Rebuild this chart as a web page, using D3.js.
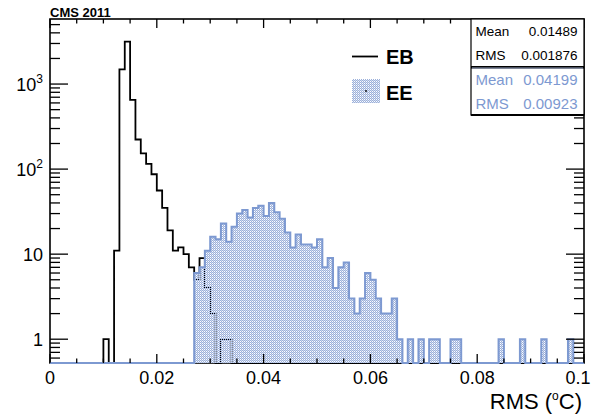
<!DOCTYPE html>
<html><head><meta charset="utf-8">
<script src="https://cdn.jsdelivr.net/npm/d3@7"></script>
<style>body{margin:0;background:#fff;} svg{display:block;font-family:"Liberation Sans",Arial,Helvetica,sans-serif;}</style>
</head><body><svg id="c" width="598" height="415"></svg>
<script>
// ---- data ----
const binLow = 0, binHigh = 0.1, nBins = 100;
// EB counts per bin (0.001 wide bins starting at 0)
const ebCounts = [
  0,0,0,0,0,0,0,0,0,0,
  1,0,11,1490,3150,650,223,153,115,87,
  56,35,19,11,12,10,7,5,9,4,
  2,0,1,1,0,0,0,0,0,0,
  0,0,0,0,0,0,0,0,0,0,
  0,0,0,0,0,0,0,0,0,0,
  0,0,0,0,0,0,0,0,0,0,
  0,0,0,0,0,0,0,0,0,0,
  0,0,0,0,0,0,0,0,0,0,
  0,0,0,0,0,0,0,0,0,0
];
const eeCounts = [
  0,0,0,0,0,0,0,0,0,0,
  0,0,0,0,0,0,0,0,0,0,
  0,0,0,0,0,0,0,6,7,11,
  16,15,23,14,21,30,33,27,35,37,
  28,40,31,26,18,12,17,13,13,12,
  15,7,9,4,7,8,3,2,3,6,
  5,3,2,2,3,1,0,1,0,1,
  0,1,1,0,0,1,1,0,0,0,
  0,0,0,0,1,0,0,0,1,0,
  0,0,1,0,0,0,0,1,0,0
];
const seriesNames = ["EB", "EE"];
const statLabels = ["Mean", "RMS"];
const ebStats = ["0.01489", "0.001876"];
const eeStats = ["0.04199", "0.00923"];
const xTicks = [0, 0.02, 0.04, 0.06, 0.08, 0.1];
const xTickLabels = ["0", "0.02", "0.04", "0.06", "0.08", "0.1"];
const yTicks = [1, 10, 100, 1000];
const yTickBase = ["1", "10", "10", "10"];
const yTickExp = ["", "", "2", "3"];

// ---- layout ----
const W = 598, H = 415;
const L = 50, R = 584, T = 19, B = 363;
const blue = "#7d99d1";
const svg = d3.select("#c");

const x = d3.scaleLinear().domain([binLow, binHigh]).range([L, R]);
const y = d3.scaleLog().domain([0.525, 5820]).range([B, T]);

const defs = svg.append("defs");
const pat = defs.append("pattern").attr("id", "eefill").attr("patternUnits", "userSpaceOnUse")
  .attr("width", 2).attr("height", 2);
pat.append("rect").attr("x", 0).attr("y", 0).attr("width", 1).attr("height", 1).attr("fill", "#9bb0db");
pat.append("rect").attr("x", 1).attr("y", 1).attr("width", 1).attr("height", 1).attr("fill", "#9bb0db");
pat.append("rect").attr("x", 1).attr("y", 0).attr("width", 1).attr("height", 1).attr("fill", "#d0d9ec");
defs.append("clipPath").attr("id", "clip").append("rect")
  .attr("x", L).attr("y", T - 1).attr("width", R - L).attr("height", B - T + 2);

// frame
svg.append("rect").attr("x", L).attr("y", T).attr("width", R - L).attr("height", B - T)
  .attr("fill", "none").attr("stroke", "#000").attr("stroke-width", 1.6);

const bw = (binHigh - binLow) / nBins;
function stepPoints(counts) {
  const pts = [[x(binLow), B]];
  counts.forEach((c, i) => {
    const yy = c > 0 ? y(c) : B;
    pts.push([x(binLow + i * bw), yy]);
    pts.push([x(binLow + (i + 1) * bw), yy]);
  });
  pts.push([x(binHigh), B]);
  return pts;
}
const line = d3.line();
const g = svg.append("g").attr("clip-path", "url(#clip)");

// EB
g.append("path").attr("d", line(stepPoints(ebCounts)))
  .attr("fill", "none").attr("stroke", "#000").attr("stroke-width", 1.8).attr("stroke-linejoin", "miter");
// EE
const eePts = stepPoints(eeCounts);
g.append("path").attr("d", line(eePts) + "Z").attr("fill", "url(#eefill)").attr("stroke", "none");
g.append("path").attr("d", line(eePts)).attr("fill", "none").attr("stroke", blue).attr("stroke-width", 2);

// ---- axes ----
const xMinor = d3.range(0, 21).map(i => i * 0.005);
const axG = svg.append("g").attr("stroke", "#000").attr("stroke-width", 1.3);
xMinor.forEach(v => {
  const major = xTicks.some(t => Math.abs(t - v) < 1e-9);
  const len = major ? 9 : 4.5;
  axG.append("line").attr("x1", x(v)).attr("x2", x(v)).attr("y1", B).attr("y2", B - len);
  axG.append("line").attr("x1", x(v)).attr("x2", x(v)).attr("y1", T).attr("y2", T + len);
});
const yMinor = [];
[0.1, 1, 10, 100, 1000].forEach(dec => { for (let k = 2; k <= 9; k++) { const v = dec * k; if (v > 0.525 && v < 5820) yMinor.push(v); } });
yMinor.forEach(v => {
  axG.append("line").attr("x1", L).attr("x2", L + 10).attr("y1", y(v)).attr("y2", y(v));
  axG.append("line").attr("x1", R).attr("x2", R - 10).attr("y1", y(v)).attr("y2", y(v));
});
yTicks.forEach(v => {
  axG.append("line").attr("x1", L).attr("x2", L + 18).attr("y1", y(v)).attr("y2", y(v));
  axG.append("line").attr("x1", R).attr("x2", R - 18).attr("y1", y(v)).attr("y2", y(v));
});

// x tick labels
xTicks.forEach((v, i) => {
  svg.append("text").attr("x", x(v) + (i === xTicks.length - 1 ? -6 : 0)).attr("y", 384)
    .attr("text-anchor", "middle").attr("font-size", 18).attr("fill", "#000").text(xTickLabels[i]);
});
// y tick labels
yTicks.forEach((v, i) => {
  const t = svg.append("text").attr("x", 43).attr("y", y(v) + 6.5).attr("text-anchor", "end")
    .attr("font-size", 18).attr("fill", "#000");
  t.append("tspan").text(yTickBase[i]);
  if (yTickExp[i]) t.append("tspan").attr("font-size", 12).attr("dy", -8).text(yTickExp[i]);
});
// x axis title
const xt = svg.append("text").attr("x", 582).attr("y", 409).attr("text-anchor", "end")
  .attr("font-size", 22).attr("fill", "#000");
xt.append("tspan").text("RMS (");
xt.append("tspan").attr("font-size", 12).attr("dy", -9).text("o");
xt.append("tspan").attr("dy", 9).text("C)");

// CMS label
svg.append("text").attr("x", 50).attr("y", 16.5).attr("font-size", 13).attr("font-weight", "bold")
  .attr("fill", "#000").text("CMS 2011");

// legend
svg.append("line").attr("x1", 352).attr("x2", 378).attr("y1", 56.5).attr("y2", 56.5)
  .attr("stroke", "#000").attr("stroke-width", 1.8);
svg.append("text").attr("x", 386).attr("y", 64).attr("font-size", 20).attr("font-weight", "bold")
  .attr("fill", "#000").text(seriesNames[0]);
svg.append("rect").attr("x", 352).attr("y", 79).attr("width", 28).attr("height", 24).attr("fill", "url(#eefill)");
svg.append("circle").attr("cx", 366).attr("cy", 91).attr("r", 0.9).attr("fill", "#000");
svg.append("text").attr("x", 386).attr("y", 99.5).attr("font-size", 20).attr("font-weight", "bold")
  .attr("fill", "#000").text(seriesNames[1]);

// stats boxes
function statBox(y0, h, vals, color, fs, baselines, topColor) {
  svg.append("rect").attr("x", 471).attr("y", y0).attr("width", R - 471).attr("height", h)
    .attr("fill", "#fff").attr("stroke", "#000").attr("stroke-width", 1.2);
  svg.append("line").attr("x1", 471).attr("x2", R).attr("y1", y0 + h).attr("y2", y0 + h)
    .attr("stroke", "#000").attr("stroke-width", 2.2);
  if (topColor) svg.append("line").attr("x1", 472).attr("x2", R - 1).attr("y1", y0).attr("y2", y0)
    .attr("stroke", topColor).attr("stroke-width", 1.2);
  statLabels.forEach((lab, i) => {
    svg.append("text").attr("x", 475.5).attr("y", baselines[i]).attr("font-size", fs).attr("fill", color).text(lab);
    svg.append("text").attr("x", 577.5).attr("y", baselines[i]).attr("font-size", fs).attr("fill", color)
      .attr("text-anchor", "end").text(vals[i]);
  });
}
statBox(19, 48, ebStats, "#000", 13.5, [36, 60], null);
statBox(68, 47, eeStats, blue, 15, [84.5, 108.5], "#9aa8c8");
</script>
</body></html>
